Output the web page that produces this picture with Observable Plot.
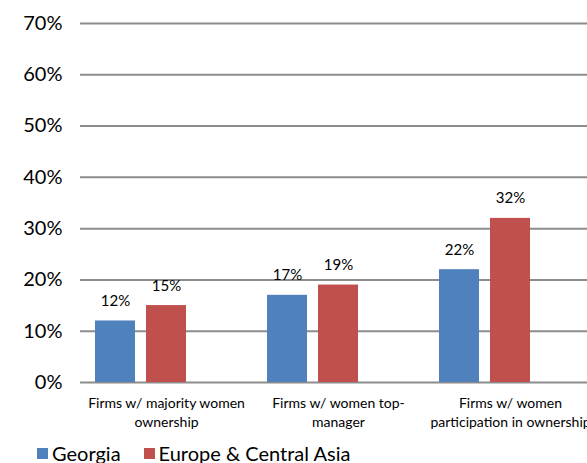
<!DOCTYPE html>
<html>
<head>
<meta charset="utf-8">
<script src="https://cdn.jsdelivr.net/npm/d3@7"></script>
<script src="https://cdn.jsdelivr.net/npm/@observablehq/plot@0.6"></script>
<style>
  body { margin: 0; background: #fff; font-family: Lato, "Open Sans", sans-serif; }
  #chart svg { display: block; overflow: visible; }
  #legend { display: flex; align-items: center; height: 20px; padding-left: 37px; font-size: 20px; color: #000; line-height: 20px; white-space: nowrap; }
  #legend .item { display: flex; align-items: center; margin-right: 23px; }
  #legend .swatch { width: 11px; height: 11px; margin-right: 4px; }
</style>
</head>
<body>
<div id="chart"></div>
<div id="legend"></div>
<script>
// Firm-level indicators of women's participation, Georgia vs. regional average
const categories = [
  "Firms w/ majority women\nownership",
  "Firms w/ women top-\nmanager",
  "Firms w/ women\nparticipation in ownership"
];
const seriesNames = ["Georgia", "Europe & Central Asia"];
const georgia = [0.12, 0.17, 0.22];
const europeCentralAsia = [0.15, 0.19, 0.32];
const yTicks = [0, 0.1, 0.2, 0.3, 0.4, 0.5, 0.6, 0.7];
const seriesColors = ["#4F81BD", "#C0504D"];

const georgiaRows = categories.map((c, i) => ({category: c, series: seriesNames[0], value: georgia[i]}));
const ecaRows = categories.map((c, i) => ({category: c, series: seriesNames[1], value: europeCentralAsia[i]}));

const pct = v => Math.round(v * 100) + "%";

const chart = Plot.plot({
  width: 587,
  height: 443,
  marginLeft: 80,
  marginRight: 0,
  marginTop: 23,
  marginBottom: 61,
  style: {fontFamily: "Lato, 'Open Sans', sans-serif", background: "#fff", color: "#000"},
  x: {domain: categories, range: [80, 596], padding: 0, axis: null},
  y: {domain: [0, 0.7], axis: null},
  color: {domain: seriesNames, range: seriesColors},
  marks: [
    Plot.ruleY(yTicks, {stroke: "#8c8c8c", strokeWidth: 2}),
    Plot.barY(georgiaRows, {x: "category", y: "value", fill: "series", insetLeft: 15, insetRight: 117}),
    Plot.barY(ecaRows, {x: "category", y: "value", fill: "series", insetLeft: 66, insetRight: 66}),
    Plot.text(georgiaRows, {x: "category", y: "value", text: d => pct(d.value), dx: -51, dy: -15, lineAnchor: "bottom", fontSize: 15, fill: "#000"}),
    Plot.text(ecaRows, {x: "category", y: "value", text: d => pct(d.value), dx: 0, dy: -15, lineAnchor: "bottom", fontSize: 15, fill: "#000"}),
    Plot.axisY({ticks: yTicks, tickFormat: pct, tickSize: 0, tickPadding: 18, fontSize: 20, fill: "#000", label: null}),
    Plot.axisX({tickSize: 0, tickPadding: 13, fontSize: 14, lineHeight: 1.3, fill: "#000", label: null})
  ]
});
document.getElementById("chart").append(chart);

const legend = document.getElementById("legend");
seriesNames.forEach((name, i) => {
  const item = document.createElement("div");
  item.className = "item";
  const sw = document.createElement("div");
  sw.className = "swatch";
  sw.style.background = seriesColors[i];
  const label = document.createElement("span");
  label.textContent = name;
  item.append(sw, label);
  legend.append(item);
});
</script>
</body>
</html>
